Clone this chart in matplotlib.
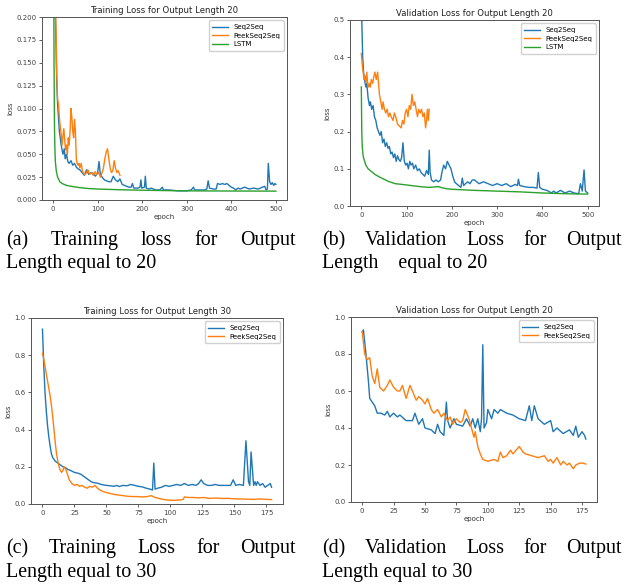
import matplotlib
matplotlib.use('Agg')
import matplotlib.pyplot as plt

# ---- (a) training loss, output length 20 ----
a_seq_ep = [0,2,4,6,8,10,12,14,16,18,20,22,25,27,30,33,36,40,44,48,52,56,60,65,70,75,80,85,90,95,100,103,106,110,115,120,125,130,135,140,145,150,155,160,165,170,175,178,181,185,190,195,197,199,205,207,209,215,220,230,240,245,248,260,280,300,310,315,318,330,340,345,348,351,360,366,369,375,380,385,390,395,400,405,410,415,420,430,440,450,460,470,475,478,481,483,486,489,492,495,498,500]
a_seq = [0.45,0.3,0.22,0.18,0.13,0.105,0.09,0.075,0.068,0.06,0.055,0.05,0.056,0.045,0.05,0.042,0.04,0.043,0.038,0.04,0.036,0.034,0.033,0.03,0.027,0.033,0.028,0.03,0.029,0.026,0.03,0.042,0.028,0.025,0.022,0.021,0.02,0.02,0.026,0.022,0.02,0.023,0.017,0.016,0.015,0.014,0.014,0.018,0.013,0.013,0.013,0.014,0.022,0.013,0.014,0.026,0.013,0.012,0.013,0.011,0.011,0.014,0.011,0.011,0.010,0.010,0.011,0.014,0.011,0.011,0.011,0.012,0.021,0.013,0.012,0.012,0.018,0.017,0.018,0.017,0.018,0.016,0.014,0.013,0.011,0.013,0.012,0.014,0.012,0.013,0.012,0.014,0.015,0.011,0.012,0.040,0.020,0.017,0.019,0.016,0.018,0.017]
a_peek_ep = [0,2,4,6,8,10,12,14,16,18,20,22,24,26,28,30,32,34,36,38,40,42,44,46,48,50,52,54,56,58,60,63,66,70,74,78,82,86,90,94,98,102,106,110,113,116,119,122,125,128,131,134,137,140,143,146,150]
a_peek = [0.5,0.35,0.25,0.2,0.14,0.11,0.105,0.09,0.08,0.072,0.06,0.07,0.078,0.065,0.055,0.06,0.05,0.068,0.06,0.075,0.1,0.09,0.075,0.068,0.088,0.075,0.045,0.04,0.038,0.04,0.035,0.04,0.031,0.028,0.029,0.033,0.028,0.03,0.027,0.031,0.028,0.03,0.025,0.03,0.035,0.045,0.052,0.056,0.045,0.035,0.03,0.032,0.043,0.035,0.03,0.032,0.027]
a_lstm_ep = [0,1,2,3,4,5,7,10,15,20,30,40,60,80,100,150,200,250,300,400,500]
a_lstm = [0.6,0.3,0.15,0.08,0.055,0.042,0.032,0.025,0.02,0.018,0.016,0.015,0.0135,0.0125,0.012,0.0112,0.0107,0.0103,0.010,0.0098,0.0097]

# ---- (b) validation loss, output length 20 ----
b_seq_ep = [0,1,2,3,5,7,10,12,15,18,20,23,26,29,32,35,38,41,44,47,50,53,56,59,62,65,68,71,74,77,80,83,86,89,92,95,98,101,104,107,110,113,116,120,124,128,132,136,140,144,148,150,152,155,160,165,170,175,178,182,186,190,194,198,202,206,210,215,220,223,226,230,235,240,245,250,255,260,270,280,290,300,310,320,330,340,345,347,350,360,370,380,388,391,394,400,410,420,425,430,440,450,460,470,480,484,488,492,495,500]
b_seq = [0.62,0.5,0.45,0.4,0.36,0.34,0.32,0.33,0.29,0.27,0.28,0.26,0.27,0.24,0.23,0.21,0.2,0.19,0.2,0.17,0.18,0.16,0.17,0.155,0.16,0.14,0.145,0.13,0.14,0.12,0.135,0.125,0.12,0.13,0.17,0.12,0.11,0.115,0.1,0.12,0.11,0.115,0.1,0.11,0.095,0.1,0.09,0.085,0.08,0.095,0.085,0.15,0.09,0.07,0.065,0.07,0.065,0.07,0.09,0.11,0.1,0.12,0.11,0.1,0.08,0.065,0.06,0.055,0.05,0.075,0.055,0.06,0.065,0.06,0.07,0.07,0.065,0.06,0.065,0.06,0.055,0.06,0.055,0.06,0.052,0.058,0.055,0.072,0.055,0.052,0.05,0.05,0.048,0.09,0.05,0.045,0.042,0.035,0.04,0.035,0.042,0.035,0.04,0.035,0.033,0.06,0.04,0.097,0.04,0.035]
b_peek_ep = [0,2,4,6,8,10,12,14,16,18,20,22,25,28,30,33,36,38,40,43,46,48,51,54,57,60,63,66,70,73,76,80,84,88,91,94,97,100,103,106,109,112,115,118,121,124,127,130,133,136,139,142,144,146,148,150]
b_peek = [0.41,0.38,0.36,0.34,0.35,0.33,0.36,0.33,0.32,0.33,0.32,0.34,0.33,0.35,0.36,0.34,0.36,0.33,0.3,0.28,0.26,0.28,0.26,0.25,0.26,0.24,0.25,0.24,0.23,0.25,0.24,0.22,0.215,0.21,0.23,0.22,0.25,0.26,0.24,0.27,0.26,0.3,0.27,0.28,0.26,0.24,0.26,0.25,0.26,0.24,0.25,0.21,0.23,0.26,0.23,0.26]
b_lstm_ep = [0,1,2,4,6,10,15,20,30,40,50,60,75,90,110,130,150,170,185,200,250,300,350,400,450,500]
b_lstm = [0.32,0.2,0.16,0.135,0.125,0.11,0.1,0.095,0.085,0.078,0.072,0.066,0.06,0.058,0.055,0.052,0.05,0.052,0.047,0.045,0.042,0.04,0.038,0.035,0.033,0.032]

# ---- (c) training loss, output length 30 ----
c_seq_ep = [0,1,2,3,4,5,6,7,8,10,12,14,16,18,20,22,25,28,30,32,34,36,38,40,43,46,50,53,56,58,60,63,66,69,72,75,78,81,84,86,87,88,90,93,96,99,102,105,108,111,114,117,120,122,124,126,129,132,135,138,141,144,147,149,151,154,157,159,161,162,163,165,166,167,168,170,172,174,176,178,179]
c_seq = [0.94,0.75,0.6,0.5,0.42,0.36,0.31,0.27,0.25,0.23,0.22,0.21,0.2,0.195,0.185,0.18,0.17,0.165,0.16,0.15,0.14,0.13,0.12,0.115,0.112,0.105,0.1,0.098,0.095,0.1,0.094,0.1,0.098,0.105,0.1,0.095,0.092,0.085,0.08,0.075,0.22,0.08,0.085,0.09,0.1,0.095,0.1,0.105,0.1,0.11,0.1,0.105,0.1,0.11,0.13,0.11,0.1,0.1,0.105,0.1,0.1,0.1,0.1,0.13,0.1,0.105,0.1,0.34,0.12,0.1,0.28,0.1,0.12,0.1,0.12,0.1,0.11,0.09,0.1,0.11,0.09]
c_peek_ep = [0,1,2,3,4,5,6,7,8,9,10,11,12,13,14,15,16,17,18,19,20,21,23,25,27,29,31,33,35,37,39,41,43,45,48,51,54,57,60,63,66,70,74,78,82,85,88,91,94,97,100,104,108,110,111,114,118,122,126,130,135,140,145,150,155,160,165,170,175,179]
c_peek = [0.81,0.78,0.74,0.7,0.66,0.62,0.58,0.53,0.47,0.4,0.33,0.27,0.23,0.2,0.18,0.17,0.18,0.2,0.19,0.17,0.15,0.13,0.11,0.1,0.105,0.095,0.1,0.09,0.085,0.095,0.09,0.1,0.085,0.075,0.065,0.06,0.055,0.05,0.048,0.045,0.042,0.04,0.04,0.038,0.04,0.045,0.035,0.03,0.025,0.022,0.02,0.02,0.022,0.025,0.038,0.035,0.035,0.033,0.035,0.03,0.032,0.03,0.03,0.028,0.027,0.026,0.025,0.027,0.025,0.024]

# ---- (d) validation loss ----
d_seq_ep = [0,1,3,5,6,8,10,12,15,18,20,22,25,28,30,35,40,42,45,48,50,55,58,60,62,65,67,68,70,73,75,80,83,86,88,90,92,94,95,96,97,99,100,103,105,108,110,115,120,125,130,133,135,137,140,145,150,152,155,160,165,168,170,172,175,177,178]
d_seq = [0.92,0.93,0.8,0.65,0.56,0.54,0.52,0.48,0.48,0.47,0.49,0.46,0.48,0.46,0.47,0.44,0.44,0.48,0.42,0.45,0.4,0.39,0.37,0.42,0.38,0.36,0.54,0.44,0.4,0.45,0.42,0.41,0.45,0.41,0.45,0.4,0.45,0.38,0.45,0.85,0.4,0.43,0.5,0.45,0.5,0.48,0.5,0.48,0.47,0.45,0.44,0.52,0.44,0.52,0.45,0.42,0.44,0.38,0.4,0.37,0.39,0.36,0.41,0.35,0.38,0.36,0.34]
d_peek_ep = [0,2,4,6,8,10,12,14,17,20,22,25,28,30,32,35,38,40,43,45,48,50,52,55,57,60,63,65,68,70,72,75,78,80,82,85,87,89,90,92,94,96,100,105,108,110,112,115,118,120,125,128,130,135,140,145,148,150,152,155,158,160,163,165,168,170,173,176,178]
d_peek = [0.92,0.8,0.77,0.78,0.68,0.64,0.72,0.62,0.6,0.63,0.66,0.62,0.6,0.6,0.63,0.56,0.63,0.6,0.55,0.57,0.55,0.53,0.56,0.5,0.48,0.5,0.46,0.48,0.44,0.46,0.42,0.45,0.43,0.44,0.5,0.45,0.4,0.35,0.38,0.3,0.26,0.23,0.22,0.23,0.22,0.27,0.24,0.25,0.28,0.26,0.3,0.27,0.26,0.25,0.24,0.25,0.22,0.23,0.21,0.24,0.2,0.22,0.2,0.21,0.18,0.2,0.21,0.21,0.205]

W, H = 627, 587
fig = plt.figure(figsize=(W / 100, H / 100), dpi=100)
fig.patch.set_facecolor('white')


def box(l, t, r, b):
    return [l / W, 1 - b / H, (r - l) / W, (b - t) / H]


def style(ax, title):
    ax.set_title(title, fontsize=6.1, color='#222222', pad=3)
    ax.set_xlabel('epoch', fontsize=5, color='#333333', labelpad=1.5)
    ax.set_ylabel('loss', fontsize=5, color='#333333', labelpad=2)
    ax.tick_params(labelsize=5, colors='#444444', length=2.5, width=0.6, pad=1.5)
    for s in ax.spines.values():
        s.set_color('#555555')
        s.set_linewidth(0.7)
    ax.legend(fontsize=5, loc='upper right', handlelength=2.2,
              borderpad=0.5, labelspacing=0.4, framealpha=0.9)


lw = 1.0
ax1 = fig.add_axes(box(42, 17, 287, 200))
ax1.plot(a_seq_ep, a_seq, lw=lw, label='Seq2Seq')
ax1.plot(a_peek_ep, a_peek, lw=lw, label='PeekSeq2Seq')
ax1.plot(a_lstm_ep, a_lstm, lw=lw, label='LSTM')
ax1.set_ylim(0, 0.2)
ax1.set_yticks([0, 0.025, 0.05, 0.075, 0.1, 0.125, 0.15, 0.175, 0.2])
ax1.set_yticklabels(['0.000', '0.025', '0.050', '0.075', '0.100', '0.125', '0.150', '0.175', '0.200'])
style(ax1, 'Training Loss for Output Length 20')

ax2 = fig.add_axes(box(350, 20, 599, 206))
ax2.plot(b_seq_ep, b_seq, lw=lw, label='Seq2Seq')
ax2.plot(b_peek_ep, b_peek, lw=lw, label='PeekSeq2Seq')
ax2.plot(b_lstm_ep, b_lstm, lw=lw, label='LSTM')
ax2.set_ylim(0, 0.5)
style(ax2, 'Validation Loss for Output Length 20')

ax3 = fig.add_axes(box(31, 318, 283, 504))
ax3.plot(c_seq_ep, c_seq, lw=lw, label='Seq2Seq')
ax3.plot(c_peek_ep, c_peek, lw=lw, label='PeekSeq2Seq')
ax3.set_ylim(0, 1.0)
ax3.set_xticks([0, 25, 50, 75, 100, 125, 150, 175])
style(ax3, 'Training Loss for Output Length 30')

ax4 = fig.add_axes(box(351, 317, 597, 502))
ax4.plot(d_seq_ep, d_seq, lw=lw, label='Seq2Seq')
ax4.plot(d_peek_ep, d_peek, lw=lw, label='PeekSeq2Seq')
ax4.set_ylim(0, 1.0)
ax4.set_xticks([0, 25, 50, 75, 100, 125, 150, 175])
style(ax4, 'Validation Loss for Output Length 20')

# captions, justified like the paper
renderer = fig.canvas.get_renderer()
cap = dict(fontsize=14.4, family='Liberation Serif', color='black', va='baseline')


def justify(words, x0, x1, y):
    texts = [fig.text(0, 1 - y / H, w, **cap) for w in words]
    widths = [t.get_window_extent(renderer).width for t in texts]
    gap = (x1 - x0 - sum(widths)) / (len(words) - 1)
    x = x0
    for t, w in zip(texts, widths):
        t.set_x(x / W)
        x += w + gap


def line(s, x0, y):
    fig.text(x0 / W, 1 - y / H, s, **cap)


justify(['(a)', 'Training', 'loss', 'for', 'Output'], 6, 296, 245)
line('Length equal to 20', 6, 268)
justify(['(b)', 'Validation', 'Loss', 'for', 'Output'], 322, 622, 245)
line('Length    equal to 20', 322, 268)
justify(['(c)', 'Training', 'Loss', 'for', 'Output'], 6, 296, 553)
line('Length equal to 30', 6, 577)
justify(['(d)', 'Validation', 'Loss', 'for', 'Output'], 322, 622, 553)
line('Length equal to 30', 322, 577)

fig.savefig('out.png', dpi=100)
